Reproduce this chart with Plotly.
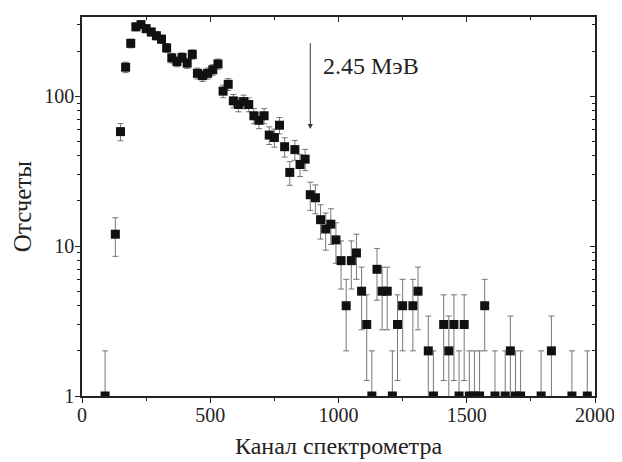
import numpy as np
import plotly.graph_objects as go

# Spectrometer channel (bin centres) and counts
channels = [90, 130, 150, 170, 190, 210, 230, 250, 270, 290, 310, 330, 350, 370, 390,
            410, 430, 450, 470, 490, 510, 530, 550, 570, 590, 610, 630, 650, 670, 690,
            710, 730, 750, 770, 790, 810, 830, 850, 870, 890, 910, 930, 950, 970, 990,
            1010, 1030, 1050, 1070, 1090, 1110, 1130, 1150, 1170, 1190, 1210, 1230, 1250,
            1290, 1310, 1350, 1370, 1410, 1430, 1450, 1470, 1490, 1510, 1530, 1550, 1570,
            1610, 1650, 1670, 1690, 1710, 1790, 1830, 1910, 1970]
counts = [1, 12, 58, 156, 225, 290, 300, 282, 268, 253, 240, 210, 180, 170, 181,
          166, 190, 142, 137, 142, 150, 164, 108, 120, 93, 88, 92, 88, 74, 69,
          74, 55, 53, 64, 46, 31, 44, 35, 38, 22, 21, 15, 13, 14, 11,
          8, 4, 8, 9, 5, 3, 1, 7, 5, 5, 1, 3, 4,
          4, 5, 2, 1, 3, 2, 3, 1, 3, 1, 1, 1, 4,
          1, 1, 2, 1, 1, 1, 2, 1, 1]

x_ticks = [0, 500, 1000, 1500, 2000]
y_ticks = [1, 10, 100]
y_minor = [2, 3, 4, 5, 6, 7, 8, 9, 20, 30, 40, 50, 60, 70, 80, 90, 200, 300]

c = np.array(counts, dtype=float)
err_plus = np.sqrt(c)
err_minus = np.minimum(np.sqrt(c), c * 0.999)

FONT = "Liberation Serif, Times New Roman, serif"
TXT = "#222222"
YR = [0, 2.528]
XR = [0, 2000]

fig = go.Figure()
fig.add_trace(go.Scatter(
    x=channels, y=counts, mode="markers",
    marker=dict(symbol="square", size=9, color="#111111"),
    error_y=dict(type="data", array=err_plus, arrayminus=err_minus,
                 color="#555555", thickness=0.8, width=3),
    showlegend=False,
))
# invisible trace for the mirrored (inside-tick) axes
fig.add_trace(go.Scatter(x=[None], y=[None], xaxis="x2", yaxis="y2",
                         showlegend=False, hoverinfo="skip"))

fig.update_layout(
    width=614, height=454,
    margin=dict(l=74, r=24, t=7, b=64),
    paper_bgcolor="white", plot_bgcolor="white",
    font=dict(family=FONT, color=TXT, size=20),
    xaxis=dict(
        range=XR, tickvals=x_ticks, ticks="outside", ticklen=5, tickwidth=1,
        tickcolor="#222", showline=True, linecolor="#222", linewidth=1.5,
        mirror=True, showgrid=False, zeroline=False, ticklabelstandoff=-5,
        minor=dict(dtick=250, tick0=0, ticks="outside", ticklen=3, tickcolor="#222"),
        tickfont=dict(size=20, family=FONT, color=TXT),
        title=dict(text="Канал спектрометра", font=dict(size=24, family=FONT, color=TXT),
                   standoff=12),
    ),
    yaxis=dict(
        type="log", range=YR, tickvals=y_ticks, ticktext=["1", "10", "100"],
        ticks="outside", ticklen=5, tickwidth=1, tickcolor="#222",
        showline=True, linecolor="#222", linewidth=1.5, mirror=True,
        showgrid=False, zeroline=False, ticklabelstandoff=-3,
        minor=dict(tickvals=y_minor, ticks="outside", ticklen=3, tickcolor="#222"),
        tickfont=dict(size=20, family=FONT, color=TXT),
        title=dict(text="Отсчеты", font=dict(size=25, family=FONT, color=TXT),
                   standoff=6),
    ),
    xaxis2=dict(
        overlaying="x", side="top", range=XR, tickvals=x_ticks, ticks="inside",
        ticklen=5, tickcolor="#222", showticklabels=False, showgrid=False,
        zeroline=False, showline=False,
        minor=dict(dtick=250, tick0=0, ticks="inside", ticklen=3, tickcolor="#222"),
    ),
    yaxis2=dict(
        overlaying="y", side="right", type="log", range=YR, tickvals=y_ticks,
        ticks="inside", ticklen=5, tickcolor="#222", showticklabels=False,
        showgrid=False, zeroline=False, showline=False,
        minor=dict(tickvals=y_minor, ticks="inside", ticklen=3, tickcolor="#222"),
    ),
    annotations=[
        dict(x=890, y=np.log10(60.5), xref="x", yref="y",
             ax=890, ay=2.363, axref="x", ayref="y",
             showarrow=True, arrowhead=2, arrowsize=1, arrowwidth=1,
             arrowcolor="#333333", text=""),
        dict(x=930, y=2.2, xref="x", yref="y", text="2.45 МэВ",
             showarrow=False, xanchor="left", yanchor="middle",
             font=dict(size=24, family=FONT, color=TXT)),
    ],
)

fig.write_html("out.html")
